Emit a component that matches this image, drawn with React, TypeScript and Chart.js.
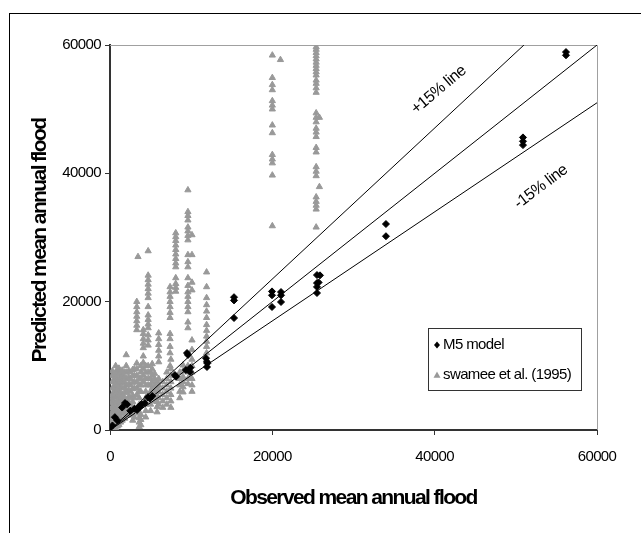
import React, { useEffect, useRef } from 'react';
import { Chart, registerables } from 'chart.js';

Chart.register(...registerables);

const AXIS_MIN = 0;
const AXIS_MAX = 60000;
const AXIS_STEP = 20000;
const BAND = 0.15;

const xTitle = 'Observed mean annual flood';
const yTitle = 'Predicted mean annual flood';
const m5Label = 'M5 model';
const swameeLabel = 'swamee et al. (1995)';
const plusLabel = '+15% line';
const minusLabel = '-15% line';

// M5 model points (observed, predicted)
const m5Observed = [0, 300, 600, 900, 1500, 1850, 2100, 2500, 3000, 3330, 3450, 3700, 3900, 4300, 4680, 4900, 5200,
  8000, 8130, 9350, 9490, 9610, 9860, 9900, 11830, 11950, 11950, 12000,
  15280, 15280, 15280, 19960, 19960, 19960, 21070, 21070, 21070,
  25500, 25870, 25500, 25500, 25500, 25700, 34000, 34000, 50880, 50880, 50880, 56180, 56180];
const m5Predicted = [300, 700, 2000, 1500, 3500, 4200, 4000, 3000, 3300, 3100, 3430, 3600, 4000, 4200, 5140, 4900, 5300,
  8570, 8300, 9350, 12000, 11700, 9040, 9700, 11200, 10600, 9820, 10400,
  20200, 20700, 17450, 21000, 21600, 19170, 21000, 21500, 19950,
  24150, 24100, 22900, 22300, 21350, 23000, 32100, 30200, 44400, 45000, 45600, 58400, 58900];

// Swamee et al. (1995): observed value of each column, and predicted values in it
const swameeObserved = [200, 300, 500, 700, 900, 1100, 1300, 1500, 1800, 2000, 2300, 2500, 2800, 3000, 3300, 3450, 3600,
  3800, 4100, 4400, 4700, 5000, 5200, 5500, 5800, 6000, 6500, 7000, 7400, 7500, 8100, 8600, 9000, 9600, 10100, 11900,
  20000, 21000, 25400, 25800];
const swameePredicted = [
  [200, 1000, 1800, 2600, 3400, 4200, 5000],
  [500, 1500, 2500, 3500, 4500, 5500, 6500, 7500, 8500, 9200],
  [300, 1200, 2000, 2800, 3600, 4400, 5200, 6000, 6800, 7600, 8400],
  [300, 1200, 2200, 3200, 4200, 5200, 6200, 7200, 8200, 9000, 10000],
  [600, 1400, 2200, 3000, 3800, 4600, 5400, 6200, 7000, 7800, 8600, 9400],
  [800, 1800, 2800, 3800, 4800, 5800, 6800, 7800, 8800, 9600],
  [1200, 2000, 2600, 3400, 4200, 5000, 5800, 6600, 7400, 8200, 9000],
  [1500, 3000, 4500, 5500, 6500, 7500, 8500, 9300],
  [1800, 2600, 3400, 4200, 5000, 5800, 6600, 7400, 8200, 9000],
  [2500, 4500, 6000, 7000, 8000, 9000, 10000, 11700],
  [2300, 3200, 4300, 5200, 6200, 7200, 8200, 9200],
  [3000, 4000, 5000, 6000, 7000, 8000, 9000],
  [1500, 2500, 3400, 4400, 5400, 6400, 7400, 8400, 9400],
  [2000, 3500, 5000, 6500, 7500, 8500, 9500],
  [5500, 6500, 7500, 8500, 9500, 10400, 15600, 16300, 17000, 17700, 18400, 19200, 20000],
  [27000],
  [500, 1200, 1900, 2600, 4000, 5000, 6000, 7000, 8000],
  [800, 1600, 2400, 6000, 7000, 8000, 9000, 10000],
  [7500, 8500, 9500, 10500, 11500, 12800, 13500, 14200, 15000, 15600],
  [2000, 3000, 4000, 5000, 6000, 7000, 8000, 9000, 10000],
  [7000, 8000, 9000, 10000, 13200, 14000, 14800, 15900, 16500, 17200, 17900, 19200, 20600, 21300, 22000, 22700, 23400, 24100, 27900],
  [3000, 4000, 5000, 6000, 7000, 8000, 9000],
  [5500, 6500, 7500, 8500, 9500, 10300],
  [4500, 6000, 7000, 8000, 8800],
  [2800, 3600, 4400, 5200, 6000, 6800, 7600],
  [4000, 5000, 6000, 7000, 8000, 10600, 11500, 12400, 13300, 14200, 15100],
  [3500, 4500, 5500, 6500, 7500],
  [4000, 5000, 6000, 7000, 8000, 9000],
  [10000, 12000, 13000, 14200, 15000, 17500, 18300, 19200, 20000, 20800, 21500, 22300],
  [3500, 4500, 5500, 6500, 7500, 8500, 9500, 11000],
  [21600, 22200, 22800, 23700, 25400, 26000, 26700, 27400, 28100, 28800, 29500, 30100, 30700],
  [5000, 6000, 7000, 8000, 9000],
  [5900, 6700, 7500, 8300, 9200, 10100],
  [7200, 8000, 9000, 10000, 15900, 16800, 18400, 19200, 20000, 20800, 21500, 22500, 23700, 25400, 26200, 27300, 29600, 30300, 31000, 31600, 32700, 33400, 34000, 37400],
  [6000, 7000, 8000, 9000, 10000, 11000, 12500, 14000, 21800, 23000, 27300, 30400],
  [10000, 11000, 12000, 13000, 13800, 14600, 15500, 16400, 17500, 18500, 19500, 20600, 22300, 24600],
  [31800, 39700, 41600, 42200, 42900, 46300, 47500, 50000, 50600, 51300, 53000, 53800, 54900, 58400],
  [57700],
  [31600, 34400, 35000, 35600, 36300, 39600, 40300, 41000, 43300, 44000, 45700, 46400, 47000, 48000, 48700, 49400, 52600, 53300, 54000, 54500, 55300, 55800, 56300, 56800, 57300, 57800, 58300, 58800, 59300, 59700],
  [37900, 48700],
];

// Label anchor positions in data units
const plusLabelAt = { x: 40500, y: 53000 };
const minusLabelAt = { x: 53100, y: 37900 };

const FONT = '"Liberation Sans", Arial, sans-serif';
const GREY = '#999999';

function drawDiamond(ctx: CanvasRenderingContext2D, x: number, y: number, r: number) {
  ctx.beginPath();
  ctx.moveTo(x, y - r);
  ctx.lineTo(x + r * 0.85, y);
  ctx.lineTo(x, y + r);
  ctx.lineTo(x - r * 0.85, y);
  ctx.closePath();
  ctx.fill();
}

function drawTriangle(ctx: CanvasRenderingContext2D, x: number, y: number, r: number) {
  ctx.beginPath();
  ctx.moveTo(x, y - r);
  ctx.lineTo(x + r, y + r * 0.8);
  ctx.lineTo(x - r, y + r * 0.8);
  ctx.closePath();
  ctx.fill();
}

const decorPlugin = {
  id: 'decor',
  beforeDatasetsDraw(chart: any) {
    const { ctx, chartArea: a } = chart;
    ctx.save();
    ctx.strokeStyle = '#a0a0a0';
    ctx.lineWidth = 1;
    ctx.beginPath();
    ctx.moveTo(a.left, a.top + 0.5);
    ctx.lineTo(a.right + 0.5, a.top + 0.5);
    ctx.lineTo(a.right + 0.5, a.bottom);
    ctx.stroke();
    ctx.restore();
  },
  afterDraw(chart: any) {
    const { ctx, chartArea: a, scales } = chart;
    ctx.save();
    ctx.fillStyle = '#000';
    // axis titles
    (ctx as any).letterSpacing = '-1.6px';
    ctx.font = `bold 21px ${FONT}`;
    ctx.textAlign = 'center';
    ctx.textBaseline = 'middle';
    ctx.fillText(xTitle, (a.left + a.right) / 2, 498);
    ctx.save();
    ctx.translate(40, (a.top + a.bottom) / 2 + 3);
    ctx.rotate(-Math.PI / 2);
    ctx.fillText(yTitle, 0, 0);
    ctx.restore();

    // band labels
    (ctx as any).letterSpacing = '-0.5px';
    ctx.font = `16px ${FONT}`;
    const lab = (t: string, p: { x: number; y: number }, deg: number) => {
      ctx.save();
      ctx.translate(scales.x.getPixelForValue(p.x), scales.y.getPixelForValue(p.y));
      ctx.rotate((deg * Math.PI) / 180);
      ctx.fillText(t, 0, 0);
      ctx.restore();
    };
    lab(plusLabel, plusLabelAt, -40);
    lab(minusLabel, minusLabelAt, -37);

    // legend
    (ctx as any).letterSpacing = '-0.6px';
    ctx.font = `15px ${FONT}`;
    const lw = 153, lh = 62;
    const lx = a.right - 16 - lw;
    const ly = a.bottom - 40 - lh;
    ctx.fillStyle = '#fff';
    ctx.fillRect(lx, ly, lw, lh);
    ctx.strokeStyle = '#333';
    ctx.lineWidth = 1;
    ctx.strokeRect(lx + 0.5, ly + 0.5, lw, lh);
    ctx.fillStyle = '#000';
    drawDiamond(ctx, lx + 9, ly + 17, 3.5);
    ctx.fillStyle = GREY;
    drawTriangle(ctx, lx + 9, ly + 47, 3.5);
    ctx.fillStyle = '#000';
    ctx.textAlign = 'left';
    ctx.fillText(m5Label, lx + 15, ly + 17);
    ctx.fillText(swameeLabel, lx + 15, ly + 47);
    ctx.restore();
  },
};

export default function App() {
  const ref = useRef<HTMLCanvasElement | null>(null);

  useEffect(() => {
    if (!ref.current) return;
    const m5Data = m5Observed.map((x, i) => ({ x, y: m5Predicted[i] }));
    const swameeData = swameeObserved.flatMap((x, i) => swameePredicted[i].map((y) => ({ x, y })));
    const identity = [{ x: AXIS_MIN, y: AXIS_MIN }, { x: AXIS_MAX, y: AXIS_MAX }];
    const upper = [{ x: AXIS_MIN, y: AXIS_MIN }, { x: AXIS_MAX * (1 - BAND), y: AXIS_MAX }];
    const lower = [{ x: AXIS_MIN, y: AXIS_MIN }, { x: AXIS_MAX, y: AXIS_MAX * (1 - BAND) }];
    const lineStyle = {
      showLine: true,
      pointRadius: 0,
      borderColor: '#000',
      borderWidth: 1,
      backgroundColor: '#000',
    };
    const tickFont = { family: FONT, size: 15 };
    const chart = new Chart(ref.current, {
      type: 'scatter',
      data: {
        datasets: [
          {
            label: m5Label,
            data: m5Data,
            pointStyle: 'rectRot',
            pointRadius: 3.5,
            borderWidth: 1,
            backgroundColor: '#000',
            borderColor: '#000',
          },
          { label: 'identity', data: identity, ...lineStyle },
          { label: 'upper', data: upper, ...lineStyle },
          { label: 'lower', data: lower, ...lineStyle },
          {
            label: swameeLabel,
            data: swameeData,
            pointStyle: 'triangle',
            pointRadius: 3.6,
            borderWidth: 1,
            backgroundColor: GREY,
            borderColor: GREY,
          },
        ],
      } as any,
      options: {
        animation: false,
        responsive: false,
        devicePixelRatio: 1,
        layout: { padding: { top: 45, right: 44, left: 0, bottom: 0 } },
        plugins: { legend: { display: false }, tooltip: { enabled: false } },
        scales: {
          x: {
            type: 'linear',
            min: AXIS_MIN,
            max: AXIS_MAX,
            ticks: {
              stepSize: AXIS_STEP,
              font: tickFont,
              color: '#000',
              padding: 13,
              maxRotation: 0,
              callback: (v: number) => String(v),
            },
            grid: { display: true, drawOnChartArea: false, drawTicks: true, tickLength: 5, color: '#333' },
            border: { display: true, color: '#333', width: 2 },
            afterFit: (s: any) => { s.height = 103; },
          },
          y: {
            type: 'linear',
            min: AXIS_MIN,
            max: AXIS_MAX,
            ticks: {
              stepSize: AXIS_STEP,
              font: tickFont,
              color: '#000',
              padding: 4,
              callback: (v: number) => String(v),
            },
            grid: { display: true, drawOnChartArea: false, drawTicks: true, tickLength: 5, color: '#333' },
            border: { display: true, color: '#333', width: 2 },
            afterFit: (s: any) => { s.width = 110; },
          },
        },
      } as any,
      plugins: [
        {
          id: 'spacing',
          beforeDraw(c: any) { (c.ctx as any).letterSpacing = '-0.6px'; },
        },
        decorPlugin,
      ],
    });
    return () => chart.destroy();
  }, []);

  return (
    <div>
      <div
        style={{
          position: 'fixed',
          left: 9,
          top: 13,
          width: 1000,
          height: 1000,
          border: '1px solid #000',
        }}
      />
      <canvas
        ref={ref}
        width={641}
        height={533}
        style={{ position: 'fixed', left: 0, top: 0, width: 641, height: 533 }}
      />
    </div>
  );
}
